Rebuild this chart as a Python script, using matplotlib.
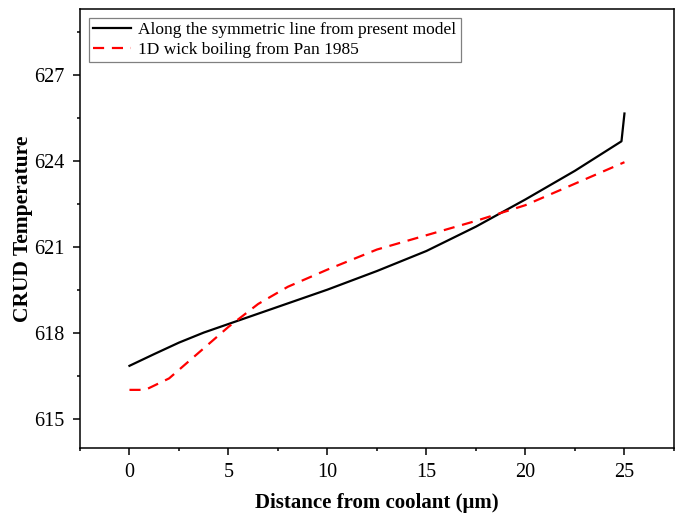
import numpy as np
import matplotlib
matplotlib.use("Agg")
import matplotlib.pyplot as plt
from matplotlib.ticker import MultipleLocator

plt.rcParams['font.family'] = ['Liberation Serif', 'DejaVu Serif']

# present model, along symmetric line
x_model = [0, 1.25, 2.5, 3.75, 5, 7.5, 10, 12.5, 15, 17.5, 20, 22.5, 24.85, 25.0]
t_model = [616.84, 617.25, 617.65, 618.0, 618.3, 618.9, 619.5, 620.15, 620.85,
           621.7, 622.65, 623.65, 624.68, 625.65]

# 1D wick boiling (Pan 1985)
x_pan = [0, 0.8, 2, 3.5, 5, 6.5, 8, 10, 12.5, 15, 17.5, 20, 22.5, 25]
t_pan = [616.0, 616.0, 616.4, 617.3, 618.2, 619.0, 619.6, 620.2, 620.9, 621.4,
         621.9, 622.45, 623.2, 623.95]

label_model = 'Along the symmetric line from present model'
label_pan = '1D wick boiling from Pan 1985'

fig = plt.figure(figsize=(6.8, 5.13), dpi=100)
ax = fig.add_axes([0.1176, 0.1267, 0.8735, 0.8558])

ax.plot(x_model, t_model, color='black', lw=1.6, label=label_model)
ax.plot(x_pan, t_pan, color='red', lw=1.6, dashes=(5, 3.5), label=label_pan)

ax.set_xlim(-2.5, 27.5)
ax.set_ylim(613.97, 629.3)
ax.xaxis.set_major_locator(MultipleLocator(5))
ax.xaxis.set_minor_locator(MultipleLocator(2.5))
ax.yaxis.set_major_locator(MultipleLocator(3))
ax.yaxis.set_minor_locator(MultipleLocator(1.5))
ax.tick_params(which='both', direction='out', top=False, right=False, labelsize=14.5)
ax.tick_params(which='major', length=5, width=1.1, pad=6)
ax.tick_params(which='minor', length=2.5, width=1.1)
for s in ax.spines.values():
    s.set_linewidth(1.1)

ax.set_xlabel('Distance from coolant (μm)', fontsize=15, fontweight='bold', labelpad=8)
ax.set_ylabel('CRUD Temperature', fontsize=15.5, fontweight='bold')
ax.yaxis.set_label_coords(-0.079, 0.5)

# handlelength 2.2 -> two full dashes, no stub
leg = ax.legend(loc='upper left', fontsize=12.5, handlelength=2.2, borderaxespad=0.5,
                fancybox=False, framealpha=1, edgecolor='gray',
                borderpad=0.25, labelspacing=0.2, handletextpad=0.4)
leg.get_frame().set_linewidth(0.9)

fig.savefig('out.png', dpi=100)
